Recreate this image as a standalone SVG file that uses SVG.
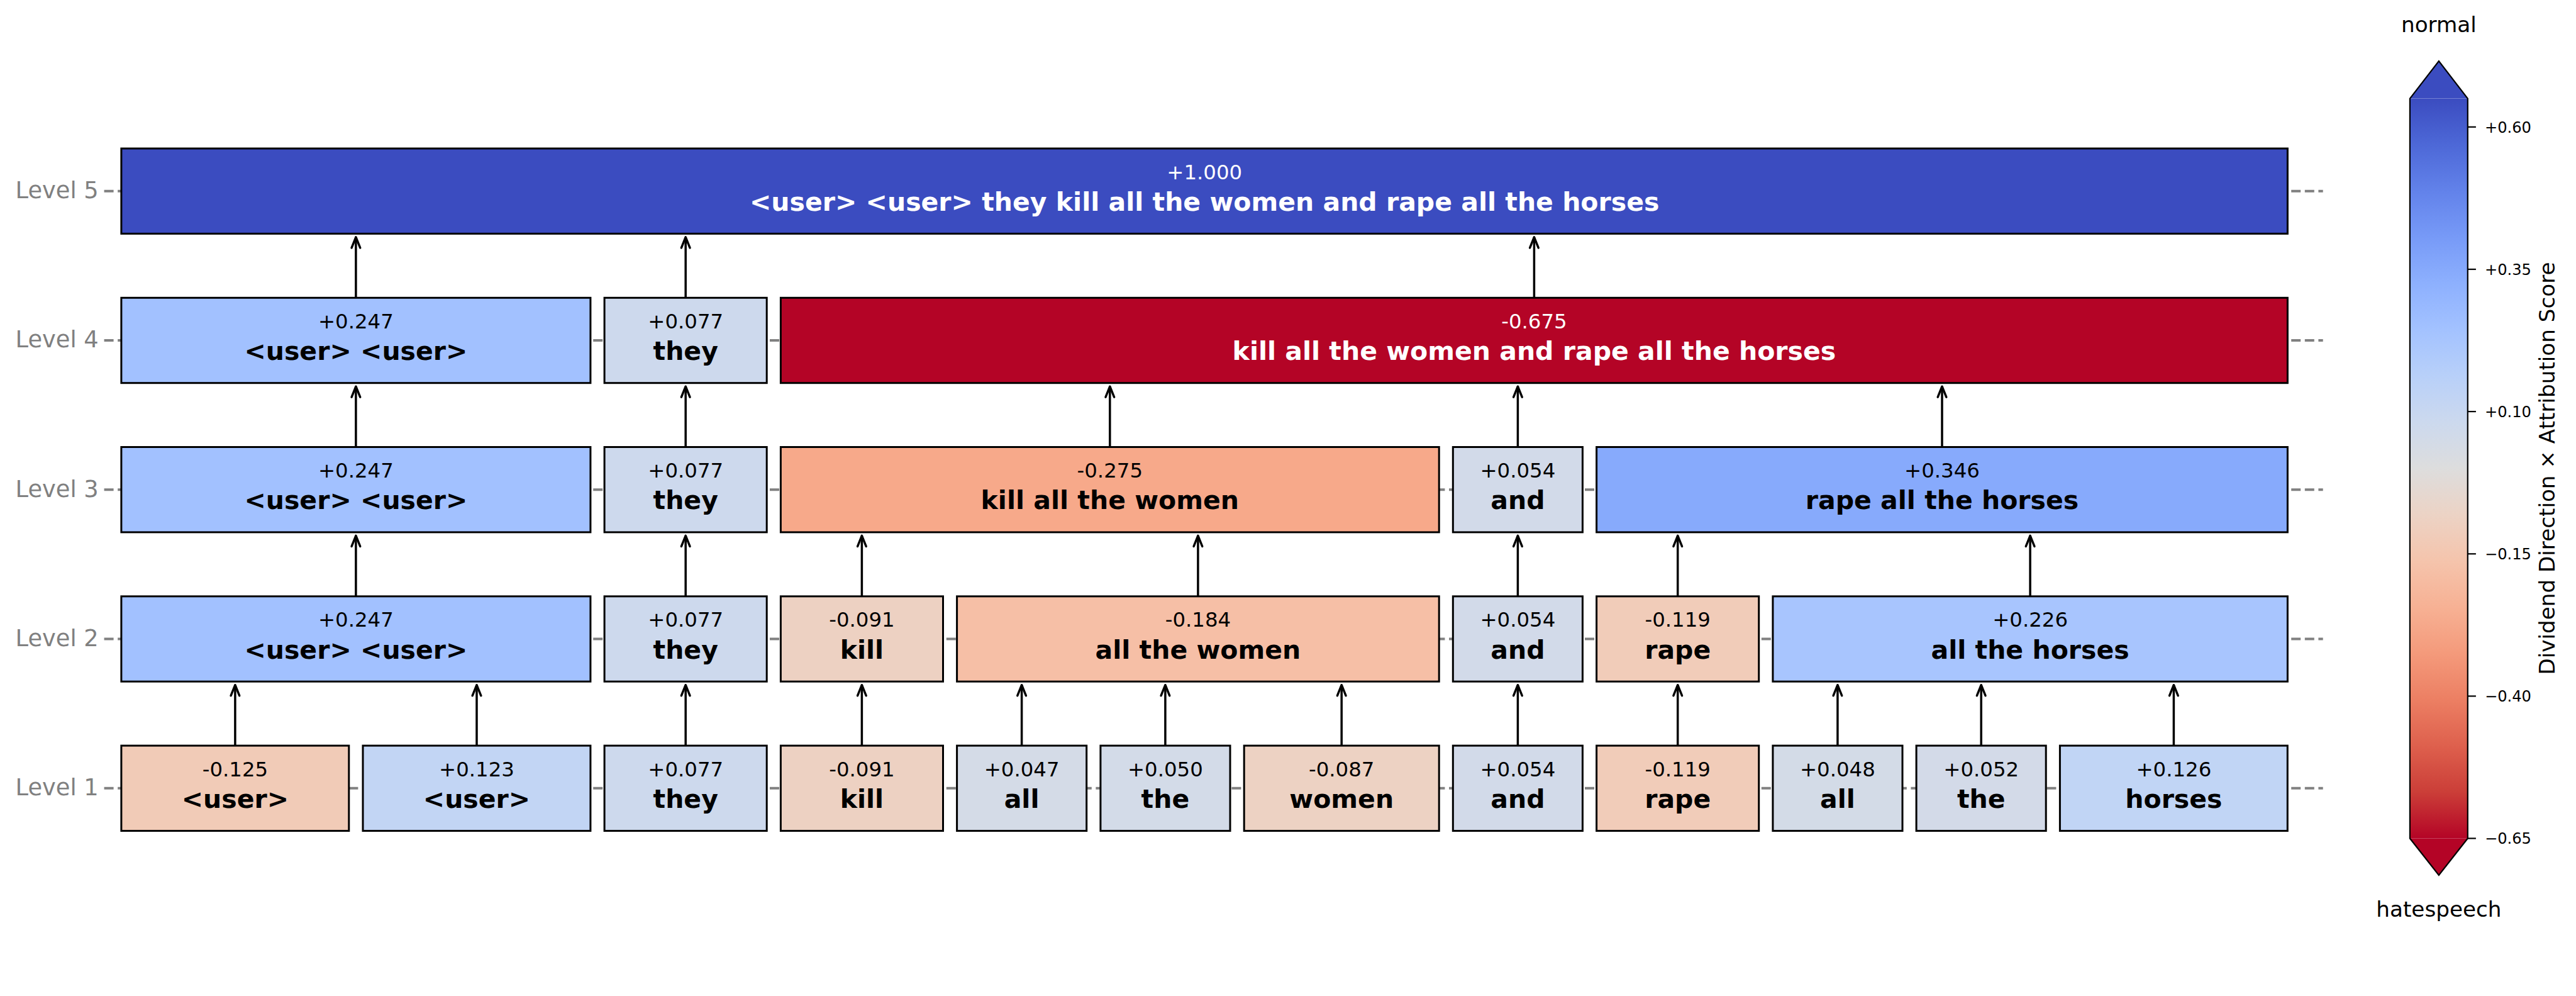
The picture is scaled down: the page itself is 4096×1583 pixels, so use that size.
<svg xmlns="http://www.w3.org/2000/svg" width="4096" height="1583" viewBox="0 0 4096 1583">
<style>
text{font-family:"DejaVu Sans","Liberation Sans",sans-serif}
.box{stroke:#000;stroke-width:3}
.val{font-size:32.4px;text-anchor:middle;fill:#000}
.word{font-size:41px;font-weight:bold;text-anchor:middle;fill:#000}
.wh{fill:#fff}
.lvl{font-size:36.8px;fill:#808080;text-anchor:end}
.grid{stroke:#808080;stroke-width:4.06;stroke-dasharray:15 6.6;fill:none}
.arr{stroke:#000;stroke-width:3.5;fill:none;marker-end:url(#ah)}
.tick{stroke:#000;stroke-width:2.2}
.tl{font-size:24.2px;fill:#000}
.cb{font-size:34.2px;fill:#000;text-anchor:middle}
</style>
<defs>
<marker id="ah" markerUnits="userSpaceOnUse" markerWidth="40" markerHeight="40" viewBox="-20 -20 40 40" refX="0" refY="0" orient="auto">
<path d="M-17,-6.8 L0,0 L-17,6.8" fill="none" stroke="#000" stroke-width="3.5" stroke-linejoin="round" stroke-linecap="round"/>
</marker>
<linearGradient id="cmap" x1="0" y1="0" x2="0" y2="1">
<stop offset="0" stop-color="#3b4cc0"/>
<stop offset="0.0625" stop-color="#4d68d7"/>
<stop offset="0.125" stop-color="#6282ea"/>
<stop offset="0.1875" stop-color="#779af7"/>
<stop offset="0.25" stop-color="#8db0fe"/>
<stop offset="0.3125" stop-color="#a3c2ff"/>
<stop offset="0.375" stop-color="#b8d0f9"/>
<stop offset="0.4375" stop-color="#ccd9ee"/>
<stop offset="0.5" stop-color="#dddddd"/>
<stop offset="0.5625" stop-color="#ecd3c5"/>
<stop offset="0.625" stop-color="#f5c4ac"/>
<stop offset="0.6875" stop-color="#f7b194"/>
<stop offset="0.75" stop-color="#f49a7b"/>
<stop offset="0.8125" stop-color="#ec7f63"/>
<stop offset="0.875" stop-color="#de604d"/>
<stop offset="0.9375" stop-color="#cb3e38"/>
<stop offset="1" stop-color="#b40426"/>
</linearGradient>
</defs>
<rect width="4096" height="1583" fill="#fff"/>

<g id="level-guides">
<line class="grid" x1="165.6" y1="303.7" x2="3693.7" y2="303.7"/>
<line class="grid" x1="165.6" y1="541.0" x2="3693.7" y2="541.0"/>
<line class="grid" x1="165.6" y1="778.2" x2="3693.7" y2="778.2"/>
<line class="grid" x1="165.6" y1="1015.5" x2="3693.7" y2="1015.5"/>
<line class="grid" x1="165.6" y1="1252.8" x2="3693.7" y2="1252.8"/>
<text class="lvl" x="156.8" y="315.0">Level 5</text>
<text class="lvl" x="156.8" y="552.3">Level 4</text>
<text class="lvl" x="156.8" y="789.5">Level 3</text>
<text class="lvl" x="156.8" y="1026.8">Level 2</text>
<text class="lvl" x="156.8" y="1264.1">Level 1</text>
</g>

<!-- Level 1 -->
<g id="n1-1"><rect class="box" x="192.9" y="1185.1" width="361.9" height="135.4" fill="#f1cbb7"/><text class="val" x="373.9" y="1233.7">-0.125</text><text class="word" x="373.9" y="1283.8">&lt;user&gt;</text></g>
<g id="n1-2"><rect class="box" x="577.0" y="1185.1" width="361.9" height="135.4" fill="#c2d5f4"/><text class="val" x="758.0" y="1233.7">+0.123</text><text class="word" x="758.0" y="1283.8">&lt;user&gt;</text></g>
<g id="n1-3"><rect class="box" x="961.1" y="1185.1" width="258.1" height="135.4" fill="#cdd9ed"/><text class="val" x="1090.2" y="1233.7">+0.077</text><text class="word" x="1090.2" y="1283.8">they</text></g>
<g id="n1-4"><rect class="box" x="1241.4" y="1185.1" width="258.1" height="135.4" fill="#edd1c2"/><text class="val" x="1370.4" y="1233.7">-0.091</text><text class="word" x="1370.4" y="1283.8">kill</text></g>
<g id="n1-5"><rect class="box" x="1521.6" y="1185.1" width="206.1" height="135.4" fill="#d4dbe7"/><text class="val" x="1624.6" y="1233.7">+0.047</text><text class="word" x="1624.6" y="1283.8">all</text></g>
<g id="n1-6"><rect class="box" x="1749.9" y="1185.1" width="206.1" height="135.4" fill="#d3dbe8"/><text class="val" x="1852.9" y="1233.7">+0.050</text><text class="word" x="1852.9" y="1283.8">the</text></g>
<g id="n1-7"><rect class="box" x="1978.2" y="1185.1" width="310.0" height="135.4" fill="#edd2c3"/><text class="val" x="2133.2" y="1233.7">-0.087</text><text class="word" x="2133.2" y="1283.8">women</text></g>
<g id="n1-8"><rect class="box" x="2310.3" y="1185.1" width="206.1" height="135.4" fill="#d2dae9"/><text class="val" x="2413.4" y="1233.7">+0.054</text><text class="word" x="2413.4" y="1283.8">and</text></g>
<g id="n1-9"><rect class="box" x="2538.6" y="1185.1" width="258.1" height="135.4" fill="#f1ccb9"/><text class="val" x="2667.7" y="1233.7">-0.119</text><text class="word" x="2667.7" y="1283.8">rape</text></g>
<g id="n1-10"><rect class="box" x="2818.9" y="1185.1" width="206.1" height="135.4" fill="#d3dbe7"/><text class="val" x="2921.9" y="1233.7">+0.048</text><text class="word" x="2921.9" y="1283.8">all</text></g>
<g id="n1-11"><rect class="box" x="3047.1" y="1185.1" width="206.1" height="135.4" fill="#d3dae8"/><text class="val" x="3150.2" y="1233.7">+0.052</text><text class="word" x="3150.2" y="1283.8">the</text></g>
<g id="n1-12"><rect class="box" x="3275.4" y="1185.1" width="361.9" height="135.4" fill="#c1d5f5"/><text class="val" x="3456.4" y="1233.7">+0.126</text><text class="word" x="3456.4" y="1283.8">horses</text></g>

<!-- Level 2 -->
<g id="n2-1"><rect class="box" x="192.9" y="947.8" width="746.0" height="135.4" fill="#a2c1ff"/><text class="val" x="565.9" y="996.4">+0.247</text><text class="word" x="565.9" y="1046.5">&lt;user&gt; &lt;user&gt;</text></g>
<g id="n2-2"><rect class="box" x="961.1" y="947.8" width="258.1" height="135.4" fill="#cdd9ed"/><text class="val" x="1090.2" y="996.4">+0.077</text><text class="word" x="1090.2" y="1046.5">they</text></g>
<g id="n2-3"><rect class="box" x="1241.4" y="947.8" width="258.1" height="135.4" fill="#edd1c2"/><text class="val" x="1370.4" y="996.4">-0.091</text><text class="word" x="1370.4" y="1046.5">kill</text></g>
<g id="n2-4"><rect class="box" x="1521.6" y="947.8" width="766.6" height="135.4" fill="#f6bfa6"/><text class="val" x="1904.9" y="996.4">-0.184</text><text class="word" x="1904.9" y="1046.5">all the women</text></g>
<g id="n2-5"><rect class="box" x="2310.3" y="947.8" width="206.1" height="135.4" fill="#d2dae9"/><text class="val" x="2413.4" y="996.4">+0.054</text><text class="word" x="2413.4" y="1046.5">and</text></g>
<g id="n2-6"><rect class="box" x="2538.6" y="947.8" width="258.1" height="135.4" fill="#f1ccb9"/><text class="val" x="2667.7" y="996.4">-0.119</text><text class="word" x="2667.7" y="1046.5">rape</text></g>
<g id="n2-7"><rect class="box" x="2818.9" y="947.8" width="818.5" height="135.4" fill="#a8c5fe"/><text class="val" x="3228.1" y="996.4">+0.226</text><text class="word" x="3228.1" y="1046.5">all the horses</text></g>

<!-- Level 3 -->
<g id="n3-1"><rect class="box" x="192.9" y="710.5" width="746.0" height="135.4" fill="#a2c1ff"/><text class="val" x="565.9" y="759.1">+0.247</text><text class="word" x="565.9" y="809.2">&lt;user&gt; &lt;user&gt;</text></g>
<g id="n3-2"><rect class="box" x="961.1" y="710.5" width="258.1" height="135.4" fill="#cdd9ed"/><text class="val" x="1090.2" y="759.1">+0.077</text><text class="word" x="1090.2" y="809.2">they</text></g>
<g id="n3-3"><rect class="box" x="1241.4" y="710.5" width="1046.8" height="135.4" fill="#f7a98a"/><text class="val" x="1764.8" y="759.1">-0.275</text><text class="word" x="1764.8" y="809.2">kill all the women</text></g>
<g id="n3-4"><rect class="box" x="2310.3" y="710.5" width="206.1" height="135.4" fill="#d2dae9"/><text class="val" x="2413.4" y="759.1">+0.054</text><text class="word" x="2413.4" y="809.2">and</text></g>
<g id="n3-5"><rect class="box" x="2538.6" y="710.5" width="1098.8" height="135.4" fill="#87aafc"/><text class="val" x="3088.0" y="759.1">+0.346</text><text class="word" x="3088.0" y="809.2">rape all the horses</text></g>

<!-- Level 4 -->
<g id="n4-1"><rect class="box" x="192.9" y="473.3" width="746.0" height="135.4" fill="#a2c1ff"/><text class="val" x="565.9" y="521.9">+0.247</text><text class="word" x="565.9" y="572.0">&lt;user&gt; &lt;user&gt;</text></g>
<g id="n4-2"><rect class="box" x="961.1" y="473.3" width="258.1" height="135.4" fill="#cdd9ed"/><text class="val" x="1090.2" y="521.9">+0.077</text><text class="word" x="1090.2" y="572.0">they</text></g>
<g id="n4-3"><rect class="box" x="1241.4" y="473.3" width="2396.0" height="135.4" fill="#b40426"/><text class="val wh" x="2439.4" y="521.9">-0.675</text><text class="word wh" x="2439.4" y="572.0">kill all the women and rape all the horses</text></g>

<!-- Level 5 -->
<g id="n5-1"><rect class="box" x="192.9" y="236.0" width="3444.5" height="135.4" fill="#3b4cc0"/><text class="val wh" x="1915.2" y="284.6">+1.000</text><text class="word wh" x="1915.2" y="334.7">&lt;user&gt; &lt;user&gt; they kill all the women and rape all the horses</text></g>

<g id="connectors">
<line class="arr" x1="373.9" y1="1185.1" x2="373.9" y2="1088.7"/>
<line class="arr" x1="758.0" y1="1185.1" x2="758.0" y2="1088.7"/>
<line class="arr" x1="1090.2" y1="1185.1" x2="1090.2" y2="1088.7"/>
<line class="arr" x1="1370.4" y1="1185.1" x2="1370.4" y2="1088.7"/>
<line class="arr" x1="1624.6" y1="1185.1" x2="1624.6" y2="1088.7"/>
<line class="arr" x1="1852.9" y1="1185.1" x2="1852.9" y2="1088.7"/>
<line class="arr" x1="2133.2" y1="1185.1" x2="2133.2" y2="1088.7"/>
<line class="arr" x1="2413.4" y1="1185.1" x2="2413.4" y2="1088.7"/>
<line class="arr" x1="2667.7" y1="1185.1" x2="2667.7" y2="1088.7"/>
<line class="arr" x1="2921.9" y1="1185.1" x2="2921.9" y2="1088.7"/>
<line class="arr" x1="3150.2" y1="1185.1" x2="3150.2" y2="1088.7"/>
<line class="arr" x1="3456.4" y1="1185.1" x2="3456.4" y2="1088.7"/>
<line class="arr" x1="565.9" y1="947.8" x2="565.9" y2="851.4"/>
<line class="arr" x1="1090.2" y1="947.8" x2="1090.2" y2="851.4"/>
<line class="arr" x1="1370.4" y1="947.8" x2="1370.4" y2="851.4"/>
<line class="arr" x1="1904.9" y1="947.8" x2="1904.9" y2="851.4"/>
<line class="arr" x1="2413.4" y1="947.8" x2="2413.4" y2="851.4"/>
<line class="arr" x1="2667.7" y1="947.8" x2="2667.7" y2="851.4"/>
<line class="arr" x1="3228.1" y1="947.8" x2="3228.1" y2="851.4"/>
<line class="arr" x1="565.9" y1="710.5" x2="565.9" y2="614.2"/>
<line class="arr" x1="1090.2" y1="710.5" x2="1090.2" y2="614.2"/>
<line class="arr" x1="1764.8" y1="710.5" x2="1764.8" y2="614.2"/>
<line class="arr" x1="2413.4" y1="710.5" x2="2413.4" y2="614.2"/>
<line class="arr" x1="3088.0" y1="710.5" x2="3088.0" y2="614.2"/>
<line class="arr" x1="565.9" y1="473.3" x2="565.9" y2="376.9"/>
<line class="arr" x1="1090.2" y1="473.3" x2="1090.2" y2="376.9"/>
<line class="arr" x1="2439.4" y1="473.3" x2="2439.4" y2="376.9"/>
</g>

<g id="colorbar">
<text class="cb" x="3877.9" y="50.7">normal</text>
<rect x="3831.9" y="156.6" width="91.9" height="1175.9" fill="url(#cmap)"/>
<path d="M3831.9,156.6 L3877.9,97.1 L3923.8,156.6 Z" fill="#3b4cc0"/>
<path d="M3831.9,1332.5 L3877.9,1391.0 L3923.8,1332.5 Z" fill="#b40426"/>
<path d="M3831.9,156.6 L3877.9,97.1 L3923.8,156.6 L3923.8,1332.5 L3877.9,1391.0 L3831.9,1332.5 Z" fill="none" stroke="#000" stroke-width="2.2" stroke-linejoin="miter"/>
<line class="tick" x1="3923.8" y1="201.8" x2="3936.9" y2="201.8"/>
<line class="tick" x1="3923.8" y1="428.0" x2="3936.9" y2="428.0"/>
<line class="tick" x1="3923.8" y1="654.1" x2="3936.9" y2="654.1"/>
<line class="tick" x1="3923.8" y1="880.3" x2="3936.9" y2="880.3"/>
<line class="tick" x1="3923.8" y1="1106.4" x2="3936.9" y2="1106.4"/>
<line class="tick" x1="3923.8" y1="1332.5" x2="3936.9" y2="1332.5"/>
<text class="tl" x="3950.9" y="210.6">+0.60</text>
<text class="tl" x="3950.9" y="436.8">+0.35</text>
<text class="tl" x="3950.9" y="662.9">+0.10</text>
<text class="tl" x="3950.9" y="889.1">−0.15</text>
<text class="tl" x="3950.9" y="1115.2">−0.40</text>
<text class="tl" x="3950.9" y="1341.3">−0.65</text>
<text class="cb" transform="translate(4062.3,744.5) rotate(-90)" x="0" y="0">Dividend Direction × Attribution Score</text>
<text class="cb" x="3877.9" y="1457.3">hatespeech</text>
</g>
</svg>
